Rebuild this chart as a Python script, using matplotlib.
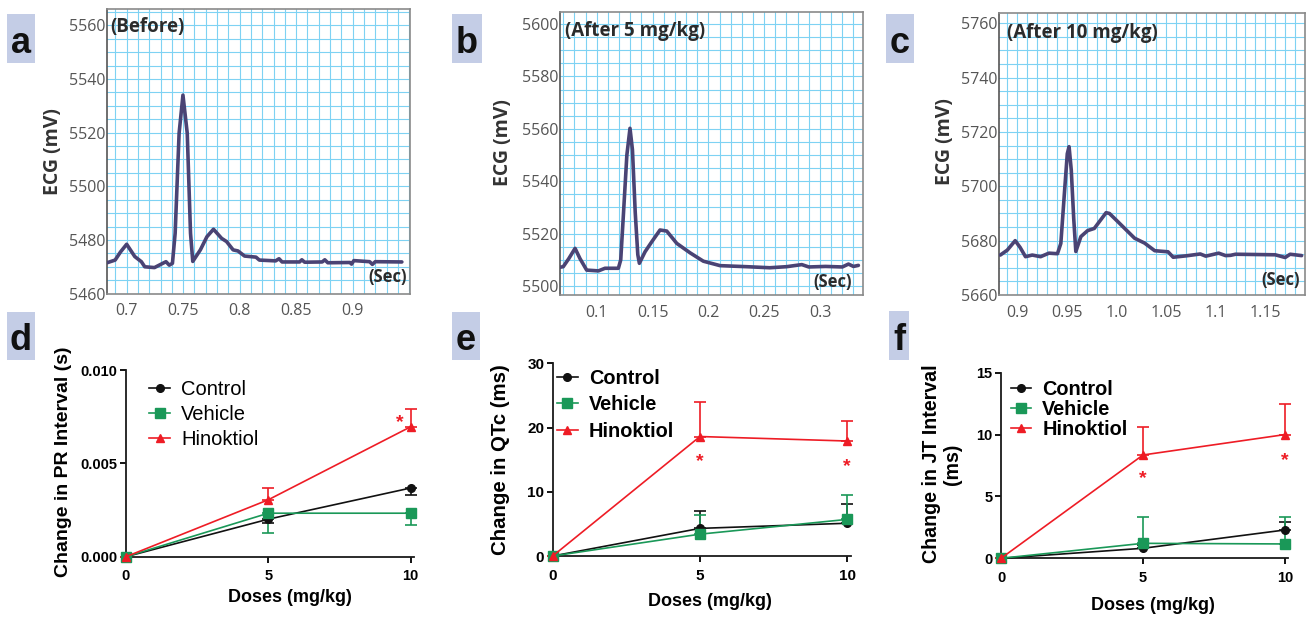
import matplotlib
matplotlib.use('Agg')
import matplotlib.pyplot as plt
from matplotlib.ticker import MultipleLocator
from matplotlib.patches import Rectangle
from matplotlib.lines import Line2D
from matplotlib.transforms import offset_copy

W, H = 1308, 619

# ---------------- ECG traces (time s, voltage mV) ----------------
a_time = [0.6826, 0.6898, 0.6945, 0.7000, 0.7072, 0.7130, 0.7160, 0.7246, 0.7320,
          0.7348, 0.7377, 0.7405, 0.7429, 0.7464, 0.7498, 0.7536, 0.7565, 0.7585,
          0.7652, 0.7710, 0.7768, 0.7840, 0.7884, 0.7942, 0.7985, 0.8043, 0.8144,
          0.8174, 0.8318, 0.8348, 0.8375, 0.8530, 0.8550, 0.8575, 0.8730, 0.8753,
          0.8780, 0.8975, 0.8990, 0.9010, 0.9150, 0.9174, 0.9200, 0.9435]
a_mv = [5471.5, 5472.5, 5475.5, 5478.4, 5473.8, 5471.9, 5470.0, 5469.7, 5471.3,
        5471.9, 5470.6, 5471.3, 5482.5, 5519.8, 5534.0, 5519.8, 5482.5, 5472.0,
        5476.3, 5481.2, 5484.0, 5480.6, 5479.4, 5476.3, 5475.9, 5474.0, 5473.6,
        5472.5, 5472.2, 5473.0, 5471.8, 5471.8, 5472.6, 5471.7, 5471.8, 5472.6,
        5471.5, 5471.6, 5471.0, 5472.3, 5471.9, 5470.9, 5471.9, 5471.8]

b_time = [0.0671, 0.0700, 0.0750, 0.0806, 0.0850, 0.0910, 0.1015, 0.1074, 0.1194,
          0.1215, 0.1240, 0.1270, 0.1298, 0.1320, 0.1345, 0.1368, 0.1382, 0.1433,
          0.1493, 0.1567, 0.1627, 0.1717, 0.1836, 0.1955, 0.2105, 0.2344, 0.2550,
          0.2700, 0.2837, 0.2900, 0.3050, 0.3200, 0.3255, 0.3300, 0.3344]
b_mv = [5507.2, 5507.4, 5510.5, 5514.4, 5510.5, 5506.1, 5505.8, 5506.8, 5506.8,
        5510.0, 5528.0, 5550.0, 5560.2, 5552.0, 5528.0, 5512.0, 5508.7, 5513.1,
        5516.9, 5521.4, 5521.0, 5516.3, 5512.7, 5509.5, 5507.8, 5507.4, 5507.0,
        5507.4, 5508.2, 5507.3, 5507.5, 5507.3, 5508.4, 5507.5, 5507.9]

c_time = [0.8830, 0.8900, 0.8980, 0.9030, 0.9084, 0.9152, 0.9236, 0.9320, 0.9406,
          0.9440, 0.9475, 0.9505, 0.9523, 0.9545, 0.9570, 0.9591, 0.9642, 0.9710,
          0.9777, 0.9896, 0.9930, 1.0014, 1.0183, 1.0284, 1.0386, 1.0520, 1.0572,
          1.0700, 1.0845, 1.0900, 1.1030, 1.1100, 1.1150, 1.1200, 1.1600, 1.1700,
          1.1750, 1.1866]
c_mv = [5674.7, 5676.5, 5680.0, 5677.5, 5674.1, 5674.7, 5674.1, 5675.4, 5675.2,
        5679.0, 5697.0, 5712.0, 5714.6, 5706.0, 5688.0, 5676.0, 5681.5, 5683.7,
        5684.5, 5690.3, 5690.0, 5687.0, 5680.9, 5679.1, 5676.3, 5675.9, 5673.9,
        5674.4, 5675.1, 5674.3, 5675.4, 5674.5, 5674.6, 5675.0, 5674.8, 5673.8,
        5675.0, 5674.5]

a_xticks = [0.7, 0.75, 0.8, 0.85, 0.9]
a_xlabels = ['0.7', '0.75', '0.8', '0.85', '0.9']
b_xticks = [0.1, 0.15, 0.2, 0.25, 0.3]
b_xlabels = ['0.1', '0.15', '0.2', '0.25', '0.3']
c_xticks = [0.9, 0.95, 1.0, 1.05, 1.1, 1.15]
c_xlabels = ['0.9', '0.95', '1.0', '1.05', '1.1', '1.15']
a_yticks = [5460, 5480, 5500, 5520, 5540, 5560]
b_yticks = [5500, 5520, 5540, 5560, 5580, 5600]
c_yticks = [5660, 5680, 5700, 5720, 5740, 5760]

# ---------------- dose response (mean, one-sided error) ----------------
doses = [0, 5, 10]
groups = ['Control', 'Vehicle', 'Hinoktiol']

pr_mean = {'Control': [0, 0.00201, 0.00368],
           'Vehicle': [0, 0.00233, 0.00233],
           'Hinoktiol': [0, 0.00305, 0.00696]}
pr_err = {'Control': [0, 0.00020, 0.00036],
          'Vehicle': [0, 0.00107, 0.00063],
          'Hinoktiol': [0, 0.00063, 0.00096]}
pr_err_dir = {'Control': 'down', 'Vehicle': 'down', 'Hinoktiol': 'up'}

qtc_mean = {'Control': [0, 4.3, 5.1],
            'Vehicle': [0, 3.4, 5.7],
            'Hinoktiol': [0, 18.6, 17.9]}
qtc_err = {'Control': [0, 2.75, 3.0],
           'Vehicle': [0, 2.95, 3.8],
           'Hinoktiol': [0, 5.35, 3.1]}

jt_mean = {'Control': [0, 0.81, 2.29],
           'Vehicle': [0, 1.21, 1.16],
           'Hinoktiol': [0, 8.35, 10.0]}
jt_err = {'Control': [0, 0.3, 0.67],
          'Vehicle': [0, 2.15, 2.2],
          'Hinoktiol': [0, 2.3, 2.5]}

pr_stars = [(9.62, 0.0075)]
qtc_stars = [(5, 15.6), (10, 14.9)]
jt_stars = [(5, 6.95), (10, 8.4)]

ECG_COLOR = '#4a4374'
GRID = '#7ed2f3'
colors = {'Control': '#111111', 'Vehicle': '#1a9858', 'Hinoktiol': '#ee1c25'}
markers = {'Control': ('o', 5.5), 'Vehicle': ('s', 6.5), 'Hinoktiol': ('^', 6)}

plt.rcParams['font.family'] = ['Liberation Sans', 'DejaVu Sans']

fig = plt.figure(figsize=(W / 100, H / 100), dpi=100)


def rect(l, t, r, b):
    return [l / W, 1 - b / H, (r - l) / W, (b - t) / H]


def ftext(x, y, s, **kw):
    return fig.text(x / W, 1 - y / H, s, **kw)


def ecg_panel(box, t, v, xlim, ylim, xticks, xlabels, yticks, title, ylab_xy, sec_xy, title_xy):
    ax = fig.add_axes(rect(*box))
    ax.plot(t, v, color=ECG_COLOR, lw=2.6, solid_joinstyle='round',
            solid_capstyle='round', zorder=3)
    ax.set_xlim(xlim)
    ax.set_ylim(ylim)
    ax.set_xticks(xticks, xlabels)
    ax.set_yticks(yticks)
    ax.xaxis.set_minor_locator(MultipleLocator(0.01))
    ax.yaxis.set_minor_locator(MultipleLocator(5))
    ax.grid(True, which='both', color=GRID, lw=0.8)
    ax.set_axisbelow(True)
    ax.tick_params(which='both', length=0, labelsize=11.5, labelcolor='#555555')
    ax.tick_params(axis='y', pad=1)
    ax.tick_params(axis='x', pad=7)
    for lab in ax.get_xticklabels() + ax.get_yticklabels():
        lab.set_family('Open Sans')
    for s in ax.spines.values():
        s.set_color('#8a8a8a')
        s.set_linewidth(1.2)
    ax.spines['left'].set_color('#555555')
    ftext(*title_xy, title, family='Open Sans', weight='bold', fontsize=13.5,
          color='#2b2b2b', ha='left', va='center')
    ftext(*sec_xy, '(Sec)', family='Open Sans', weight='bold', fontsize=12,
          color='#2b2b2b', ha='right', va='center')
    ftext(*ylab_xy, 'ECG (mV)', family='Open Sans', weight='bold', fontsize=14,
          color='#333333', rotation=90, ha='center', va='center')
    return ax


ecg_panel((107, 9.3, 410, 293.6), a_time, a_mv, (0.6826, 0.9507), (5460, 5566),
          a_xticks, a_xlabels, a_yticks, '(Before)', (53, 152), (406.7, 276.7), (110, 26.7))
ecg_panel((560, 11.7, 863.3, 295), b_time, b_mv, (0.0671, 0.3388), (5496.6, 5604.7),
          b_xticks, b_xlabels, b_yticks, '(After 5 mg/kg)', (503, 143), (851.7, 281.7), (565, 31))
ecg_panel((999.3, 12.7, 1305, 295), c_time, c_mv, (0.882, 1.190), (5660, 5763.9),
          c_xticks, c_xlabels, c_yticks, '(After 10 mg/kg)', (945, 142), (1300, 280), (1006.7, 33))


def dose_panel(box, ylim, yticks, ylabels, mean, err, err_dir, stars, ylab, ylab_xy,
               ylab_size, xlab_xy, leg_xy, leg_bold, leg_spacing, tick_size):
    ax = fig.add_axes(rect(*box))
    for g in groups:
        m, ms = markers[g]
        e = err[g]
        zeros = [0] * len(e)
        if err_dir.get(g, 'up') == 'up':
            yerr = [zeros, e]
        else:
            yerr = [e, zeros]
        ax.errorbar(doses, mean[g], yerr=yerr, color=colors[g], marker=m,
                    markersize=ms, lw=1.2, elinewidth=1.2, capsize=4, capthick=1.2,
                    clip_on=False, zorder=3)
    for x, y in stars:
        ax.text(x, y, '*', color=colors['Hinoktiol'], fontsize=14, weight='bold',
                ha='center', va='baseline',
                transform=offset_copy(ax.transData, fig=fig, y=-7.5, units='points'))
    ax.set_xlim(0, 10.12)
    ax.set_ylim(ylim)
    ax.set_xticks(doses, [str(d) for d in doses])
    ax.set_yticks(yticks, ylabels)
    for s in ['top', 'right']:
        ax.spines[s].set_visible(False)
    for s in ['left', 'bottom']:
        ax.spines[s].set_linewidth(1.3)
        ax.spines[s].set_color('#1a1a1a')
    ax.tick_params(length=4, width=1.3, labelsize=tick_size, pad=2)
    for lab in ax.get_xticklabels() + ax.get_yticklabels():
        lab.set_weight('bold')
    ax.tick_params(axis='x', pad=5)
    ftext(*ylab_xy, ylab, weight='bold', fontsize=ylab_size, rotation=90,
          ha='center', va='center', linespacing=1.15)
    ftext(*xlab_xy, 'Doses (mg/kg)', weight='bold', fontsize=13, ha='center', va='center')
    handles = [Line2D([0], [0], color=colors[g], marker=markers[g][0],
                      markersize=markers[g][1], lw=1.2) for g in groups]
    ax.legend(handles, groups, loc='upper left',
              bbox_to_anchor=(leg_xy[0] / W, 1 - leg_xy[1] / H),
              bbox_transform=fig.transFigure, frameon=False, handlelength=1.05,
              handletextpad=0.55, labelspacing=leg_spacing, borderpad=0,
              borderaxespad=0,
              prop={'size': 14.5 if not leg_bold else 14.3,
                    'weight': 'bold' if leg_bold else 'normal'})
    return ax


dose_panel((126, 370, 414.1, 556.7), (0, 0.010), [0, 0.005, 0.010],
           ['0.000', '0.005', '0.010'], pr_mean, pr_err, pr_err_dir, pr_stars,
           'Change in PR Interval (s)', (63, 462), 14, (290, 597), (149, 380), False, 0.29, 10.5)
dose_panel((552.7, 363.3, 850.8, 556), (0, 30), [0, 10, 20, 30],
           ['0', '10', '20', '30'], qtc_mean, qtc_err, {}, qtc_stars,
           'Change in QTc (ms)', (500, 460), 14.7, (710, 602), (557, 369), True, 0.37, 11)
dose_panel((1001, 372.7, 1288.4, 558.3), (0, 15), [0, 5, 10, 15],
           ['0', '5', '10', '15'], jt_mean, jt_err, {}, jt_stars,
           'Change in JT Interval\n(ms)', (942, 464), 14.1, (1153, 605), (1010.5, 380), True, 0.05, 10.5)

# panel letters in shaded boxes
letters = [('a', 7, 14, 35, 63), ('b', 451.7, 14, 481.7, 63), ('c', 886, 14, 914, 63),
           ('d', 7, 312, 35, 360), ('e', 451.7, 312, 480, 360), ('f', 889, 311, 909, 360)]
for s, l, t, r, b in letters:
    fig.patches.append(Rectangle((l / W, 1 - b / H), (r - l) / W, (b - t) / H,
                                 transform=fig.transFigure, facecolor='#c4cde6',
                                 edgecolor='none', zorder=0))
    ftext((l + r) / 2, b - 10, s, weight='bold', fontsize=26, ha='center',
          va='baseline', color='#111111')

fig.savefig('out.png', dpi=100)
